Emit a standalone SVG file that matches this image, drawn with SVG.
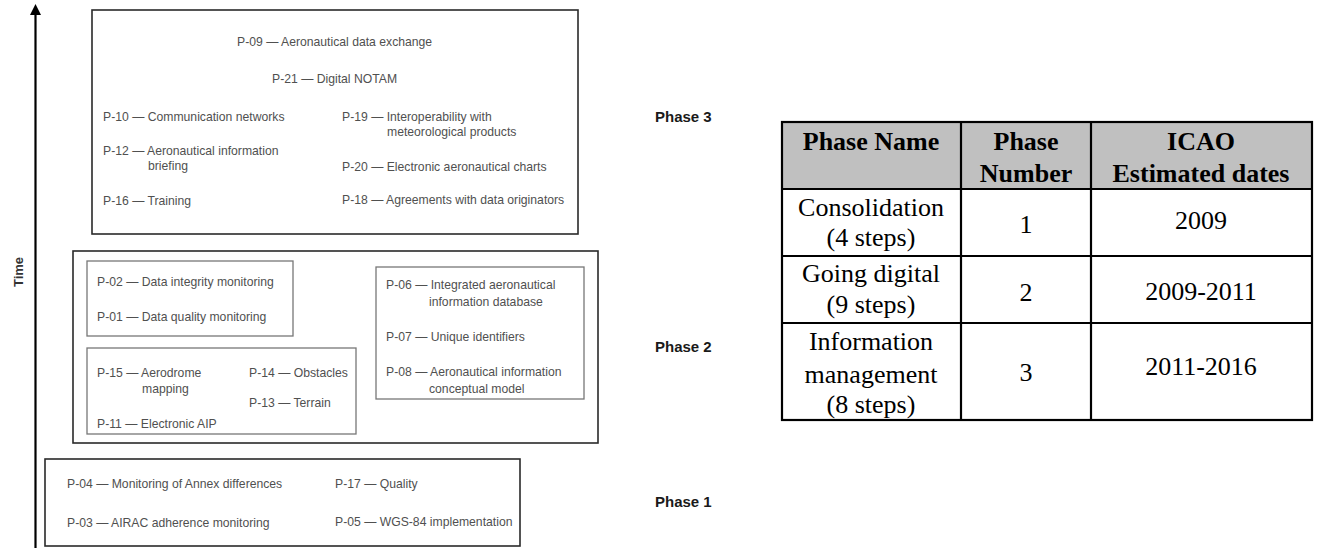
<svg xmlns="http://www.w3.org/2000/svg" width="1318" height="548" viewBox="0 0 1318 548">
<style>
.it{font-family:"Liberation Sans",Arial,sans-serif;font-size:12.2px;fill:#505050}
.ph{font-family:"Liberation Sans",Arial,sans-serif;font-size:15px;font-weight:bold;fill:#1a1a1a}
.ob{fill:none;stroke:#2a2a2a;stroke-width:1.6}
.ib{fill:none;stroke:#777;stroke-width:1.3}
.th{font-family:"Liberation Serif","Times New Roman",serif;font-size:26px;font-weight:bold;fill:#000;text-anchor:middle}
.td{font-family:"Liberation Serif","Times New Roman",serif;font-size:26px;fill:#000;text-anchor:middle}
.tl{stroke:#000;stroke-width:2.2;fill:none}
</style>
<rect width="1318" height="548" fill="#fff"/>
<g id="connectors">
<line x1="35.5" y1="13" x2="35.5" y2="548" stroke="#000" stroke-width="2.2"/>
<polygon points="35.5,4 30,15 41,15" fill="#000"/>
</g>
<g id="time-axis-label">
<text transform="translate(23,272) rotate(-90)" text-anchor="middle" style="font-family:'Liberation Sans',Arial,sans-serif;font-size:13px;font-weight:bold;fill:#333">Time</text>
</g>
<g id="phase3">
<rect class="ob" x="92" y="10" width="486" height="224"/>
<text class="it" x="237" y="46">P-09 — Aeronautical data exchange</text>
<text class="it" x="272" y="83">P-21 — Digital NOTAM</text>
<text class="it" x="103" y="121">P-10 — Communication networks</text>
<text class="it" x="103" y="155">P-12 — Aeronautical information</text>
<text class="it" x="148" y="170">briefing</text>
<text class="it" x="103" y="205">P-16 — Training</text>
<text class="it" x="342" y="121">P-19 — Interoperability with</text>
<text class="it" x="387" y="136">meteorological products</text>
<text class="it" x="342" y="171">P-20 — Electronic aeronautical charts</text>
<text class="it" x="342" y="204">P-18 — Agreements with data originators</text>
</g>
<g id="phase2">
<rect class="ob" x="73" y="251" width="525" height="192"/>
<g id="phase2-integrity">
<rect class="ib" x="87" y="261" width="206" height="75"/>
<text class="it" x="97" y="286">P-02 — Data integrity monitoring</text>
<text class="it" x="97" y="321">P-01 — Data quality monitoring</text>
</g>
<g id="phase2-mapping">
<rect class="ib" x="87" y="348" width="269" height="86"/>
<text class="it" x="97" y="377">P-15 — Aerodrome</text>
<text class="it" x="142" y="393">mapping</text>
<text class="it" x="249" y="377">P-14 — Obstacles</text>
<text class="it" x="249" y="407">P-13 — Terrain</text>
<text class="it" x="97" y="428">P-11 — Electronic AIP</text>
</g>
<g id="phase2-database">
<rect class="ib" x="376" y="267" width="208" height="132"/>
<text class="it" x="386" y="289">P-06 — Integrated aeronautical</text>
<text class="it" x="429" y="306">information database</text>
<text class="it" x="386" y="341">P-07 — Unique identifiers</text>
<text class="it" x="386" y="376">P-08 — Aeronautical information</text>
<text class="it" x="429" y="393">conceptual model</text>
</g>
</g>
<g id="phase1">
<rect class="ob" x="45" y="459" width="475" height="87"/>
<text class="it" x="67" y="488">P-04 — Monitoring of Annex differences</text>
<text class="it" x="67" y="527">P-03 — AIRAC adherence monitoring</text>
<text class="it" x="335" y="488">P-17 — Quality</text>
<text class="it" x="335" y="526">P-05 — WGS-84 implementation</text>
</g>
<g id="phase-labels">
<text class="ph" x="655" y="122">Phase 3</text>
<text class="ph" x="655" y="352">Phase 2</text>
<text class="ph" x="655" y="507">Phase 1</text>
</g>
<g id="table">
<rect x="782" y="122" width="530" height="67" fill="#c0c0c0"/>
<rect class="tl" x="782" y="122" width="530" height="298"/>
<line class="tl" x1="782" y1="189" x2="1312" y2="189"/>
<line class="tl" x1="782" y1="256" x2="1312" y2="256"/>
<line class="tl" x1="782" y1="323" x2="1312" y2="323"/>
<line class="tl" x1="961" y1="122" x2="961" y2="420"/>
<line class="tl" x1="1091" y1="122" x2="1091" y2="420"/>
<text class="th" x="871" y="150">Phase Name</text>
<text class="th" x="1026" y="150">Phase</text>
<text class="th" x="1026" y="182">Number</text>
<text class="th" x="1201" y="150">ICAO</text>
<text class="th" x="1201" y="182">Estimated dates</text>
<text class="td" x="871" y="216">Consolidation</text>
<text class="td" x="871" y="246">(4 steps)</text>
<text class="td" x="1026" y="233">1</text>
<text class="td" x="1201" y="229">2009</text>
<text class="td" x="871" y="282">Going digital</text>
<text class="td" x="871" y="313">(9 steps)</text>
<text class="td" x="1026" y="301">2</text>
<text class="td" x="1201" y="300">2009-2011</text>
<text class="td" x="871" y="350">Information</text>
<text class="td" x="871" y="383">management</text>
<text class="td" x="871" y="413">(8 steps)</text>
<text class="td" x="1026" y="381">3</text>
<text class="td" x="1201" y="375">2011-2016</text>
</g>
</svg>
